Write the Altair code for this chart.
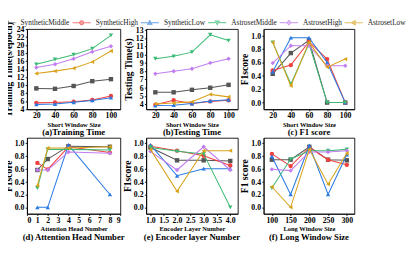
import altair as alt
import pandas as pd

SERIES = ["SyntheticMiddle", "SyntheticHigh", "SyntheticLow",
          "AstrosetMiddle", "AstrosetHigh", "AstrosetLow"]
COLORS = ["#555555", "#f0413f", "#2a7ae2", "#3dbb76", "#c27ef0", "#d9a21b"]
SHAPES = ["square", "circle", "triangle-up", "triangle-down", "diamond", "triangle-left"]

# x positions
SHORT_WIN = [20, 40, 60, 80, 100]
HEADS = [1, 2, 4, 8]
LAYERS = [1, 2, 3, 4]
LONG_WIN = [100, 150, 200, 250, 300]

# (a) training time (s/epoch)
TRAIN = {
    "SyntheticMiddle": [9.2, 9.1, 9.8, 11.0, 11.5],
    "SyntheticHigh": [5.6, 5.7, 5.9, 6.3, 7.3],
    "SyntheticLow": [5.2, 5.3, 5.75, 6.2, 6.9],
    "AstrosetMiddle": [15.2, 16.4, 17.6, 19.1, 22.4],
    "AstrosetHigh": [14.4, 15.2, 16.6, 18.3, 19.7],
    "AstrosetLow": [12.9, 13.5, 14.2, 15.8, 18.5],
}
# (b) testing time (s)
TEST = {
    "SyntheticMiddle": [5.45, 5.45, 5.75, 6.0, 6.35],
    "SyntheticHigh": [3.95, 4.5, 4.1, 4.35, 4.5],
    "SyntheticLow": [3.85, 3.9, 4.1, 4.4, 4.55],
    "AstrosetMiddle": [9.5, 9.8, 10.3, 12.4, 11.7],
    "AstrosetHigh": [7.7, 8.0, 8.3, 9.0, 9.5],
    "AstrosetLow": [4.05, 4.15, 4.3, 5.2, 4.9],
}
# (c) F1 vs short window
F1_SHORT = {
    "SyntheticMiddle": [0.43, 0.74, 0.93, 0.0, 0.0],
    "SyntheticHigh": [0.48, 0.56, 0.91, 0.65, 0.0],
    "SyntheticLow": [0.46, 0.97, 0.97, 0.60, 0.0],
    "AstrosetMiddle": [0.90, 0.28, 0.88, 0.0, 0.0],
    "AstrosetHigh": [0.59, 0.85, 0.85, 0.55, 0.55],
    "AstrosetLow": [0.90, 0.25, 0.90, 0.53, 0.65],
}
# (d) F1 vs attention heads
F1_HEADS = {
    "SyntheticMiddle": [0.58, 0.75, 0.95, 0.94],
    "SyntheticHigh": [0.69, 0.59, 0.94, 0.85],
    "SyntheticLow": [0.0, 0.0, 0.97, 0.2],
    "AstrosetMiddle": [0.30, 0.90, 0.90, 0.89],
    "AstrosetHigh": [0.58, 0.58, 0.86, 0.84],
    "AstrosetLow": [0.34, 0.92, 0.92, 0.94],
}
# (e) F1 vs encoder layers
F1_LAYERS = {
    "SyntheticMiddle": [0.93, 0.73, 0.73, 0.72],
    "SyntheticHigh": [0.95, 0.88, 0.80, 0.65],
    "SyntheticLow": [0.97, 0.49, 0.60, 0.60],
    "AstrosetMiddle": [0.93, 0.87, 0.83, 0.0],
    "AstrosetHigh": [0.87, 0.58, 0.94, 0.58],
    "AstrosetLow": [0.90, 0.25, 0.88, 0.88],
}
# (f) F1 vs long window
F1_LONG = {
    "SyntheticMiddle": [0.74, 0.74, 0.94, 0.74, 0.73],
    "SyntheticHigh": [0.83, 0.64, 0.93, 0.74, 0.66],
    "SyntheticLow": [0.79, 0.20, 0.96, 0.20, 0.82],
    "AstrosetMiddle": [0.30, 0.75, 0.88, 0.88, 0.90],
    "AstrosetHigh": [0.59, 0.57, 0.86, 0.86, 0.88],
    "AstrosetLow": [0.32, 0.0, 0.90, 0.36, 0.84],
}

# legend symbols: short line with marker in the middle
LEGEND_PATHS = [
    "M-4.2,0H-0.8M0.8,0H4.2M-0.8,-0.8H0.8V0.8H-0.8Z",
    "M-4.2,0H-0.9M0.9,0H4.2M-0.9,0A0.9,0.9,0,1,0,0.9,0A0.9,0.9,0,1,0,-0.9,0Z",
    "M-4.2,0H-0.9M0.9,0H4.2M0,-1L0.95,0.7H-0.95Z",
    "M-4.2,0H-0.9M0.9,0H4.2M0,1L0.95,-0.7H-0.95Z",
    "M-4.2,0H-1M1,0H4.2M0,-1L1,0L0,1L-1,0Z",
    "M-4.2,0H-0.7M0.9,0H4.2M-1,0L0.7,-0.95V0.95Z",
]

FONT = "Liberation Serif"


def panel(xs, values, xdom, xticks, xfmt, xtitle, ydom, yticks, yfmt, ytitle,
          caption, w, h, with_legend=False, ytpad=3):
    rows = []
    for s in SERIES:
        for xv, yv in zip(xs, values[s]):
            rows.append({"x": xv, "y": yv, "series": s})
    df = pd.DataFrame(rows)
    base = alt.Chart(df).encode(
        x=alt.X("x:Q", scale=alt.Scale(domain=xdom, nice=False, zero=False),
                axis=alt.Axis(values=xticks, format=xfmt, title=xtitle,
                              titleFontSize=7.5, titlePadding=1.5, labelFontSize=9,
                              labelPadding=1)),
        y=alt.Y("y:Q", scale=alt.Scale(domain=ydom, nice=False, zero=False),
                axis=alt.Axis(values=yticks, format=yfmt, title=ytitle,
                              titleFontSize=11, titlePadding=ytpad, labelFontSize=9,
                              labelPadding=1.5)),
        color=alt.Color("series:N", scale=alt.Scale(domain=SERIES, range=COLORS),
                        legend=None),
    )
    layers = []
    for s in SERIES:
        sub = base.transform_filter(alt.datum.series == s)
        layers.append(sub.mark_line(strokeWidth=1.2))
        layers.append(sub.mark_point(filled=True, size=26, opacity=1).encode(
            shape=alt.Shape("series:N", scale=alt.Scale(domain=SERIES, range=SHAPES),
                            legend=None)))
    ch = alt.layer(*layers)
    if with_legend:
        legend_df = pd.DataFrame({"series": SERIES})
        leg = alt.Chart(legend_df).mark_point(filled=True, clip=True, size=25).encode(
            x=alt.value(-100),
            y=alt.value(-100),
            fill=alt.Fill("series:N", scale=alt.Scale(domain=SERIES, range=COLORS),
                          legend=alt.Legend(title=None)),
            stroke=alt.Stroke("series:N", scale=alt.Scale(domain=SERIES, range=COLORS),
                              legend=alt.Legend(title=None)),
            shape=alt.Shape("series:N",
                            scale=alt.Scale(domain=SERIES, range=LEGEND_PATHS),
                            legend=alt.Legend(title=None)),
        )
        ch = alt.layer(ch, leg).resolve_scale(
            shape="independent", fill="independent", stroke="independent"
        )
    return ch.properties(
        width=w, height=h,
        title=alt.TitleParams(caption, orient="bottom", fontSize=10,
                              font=FONT, fontWeight="bold", offset=1),
    )


F1_TICKS = [0, 0.2, 0.4, 0.6, 0.8, 1.0]

a = panel(SHORT_WIN, TRAIN, [10, 110], SHORT_WIN, "d", "Short Window Size",
          [4, 24], list(range(4, 25, 2)), "d", "Training Time(s/epoch)",
          "(a)Training Time", 108, 93, with_legend=True)
b = panel(SHORT_WIN, TEST, [10, 110], SHORT_WIN, "d", "Short Window Size",
          [3.4, 13.1], list(range(4, 14)), "d", "Testing Time(s)",
          "(b)Testing Time", 106, 93)
c = panel(SHORT_WIN, F1_SHORT, [10, 110], SHORT_WIN, "d", "Short Window Size",
          [-0.1, 1.1], F1_TICKS, ".1f", "F1score",
          "(c) F1 score", 105, 93, ytpad=1.5)
d = panel(HEADS, F1_HEADS, [0, 9], list(range(0, 10)), "d", "Attention Head Number",
          [-0.1, 1.08], F1_TICKS, ".1f", "F1score",
          "(d) Attention Head Number", 108, 88, ytpad=1.5)
e = panel(LAYERS, F1_LAYERS, [0.84, 4.28], [1, 1.5, 2, 2.5, 3, 3.5, 4], ".1f",
          "Encoder Layer Number", [-0.1, 1.08], F1_TICKS, ".1f",
          "F1score", "(e) Encoder layer Number", 106, 88, ytpad=1.5)
f = panel(LONG_WIN, F1_LONG, [78, 320], LONG_WIN, "d", "Long Window Size",
          [-0.1, 1.08], F1_TICKS, ".1f", "F1 score",
          "(f) Long Window Size", 105, 88, ytpad=1.5)

chart = alt.concat(
    a, b, c, d, e, f, columns=3, spacing={"row": 33, "column": 30}, bounds="flush"
).resolve_scale(
    shape="independent", fill="independent", stroke="independent"
).properties(
    padding={"left": -7, "top": -8.5, "right": 0, "bottom": -1}
).configure(
    font=FONT,
).configure_view(
    stroke="black", strokeWidth=1,
).configure_axis(
    grid=False, domainColor="black", tickColor="black", tickSize=2,
    labelFont=FONT, labelFontWeight="bold", labelColor="black",
    titleFont=FONT, titleFontWeight="bold", titleColor="black",
).configure_legend(
    orient="none", legendX=-28, legendY=-12, direction="horizontal",
    labelFont=FONT, labelFontSize=8.5, labelColor="#222", symbolSize=25,
    symbolStrokeWidth=1.2, symbolOffset=0, labelOffset=12, columnPadding=0,
    padding=0,
)

chart.save("out.html", embed_options={"renderer": "svg", "actions": False})
